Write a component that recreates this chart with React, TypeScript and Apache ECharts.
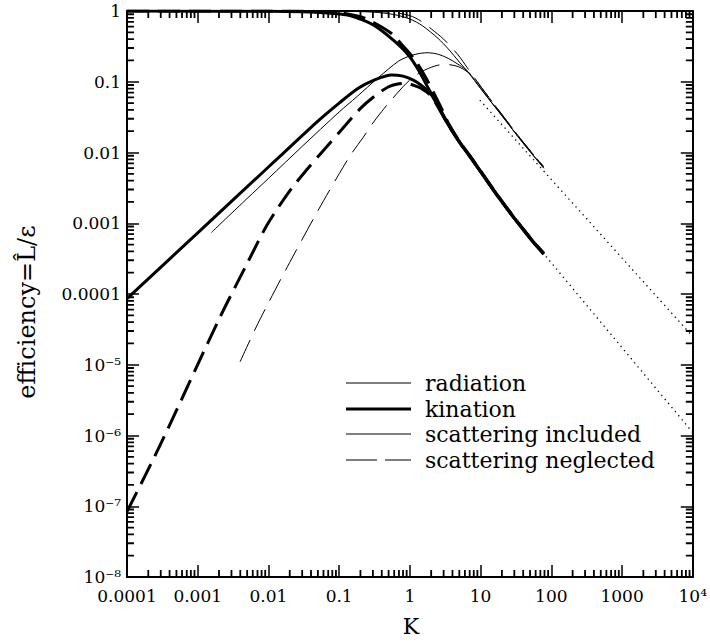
import React, { useEffect, useRef } from "react";
import * as echarts from "echarts";

// ---- tick labels ----
const xTickLabels = ["0.0001", "0.001", "0.01", "0.1", "1", "10", "100", "1000", "10⁴"];
const yTickLabels = ["10⁻⁸", "10⁻⁷", "10⁻⁶", "10⁻⁵", "0.0001", "0.001", "0.01", "0.1", "1"];
const xDecades = [1e-4, 1e-3, 1e-2, 1e-1, 1, 10, 100, 1000];
const yDecades = [1e-8, 1e-7, 1e-6, 1e-5, 1e-4, 1e-3, 1e-2, 1e-1];
const minorMultipliers = [2, 3, 4, 5, 6, 7, 8, 9];

const legendLabels = ["radiation", "kination", "scattering included", "scattering neglected"];

// ---- radiation, scattering included (thin solid) ----
const radInclFall = [
  [1e-4, 1], [0.01, 1], [0.1, 0.99], [0.3, 0.965], [0.6, 0.89], [1, 0.77], [1.5, 0.62],
  [2.5, 0.41], [3.5, 0.29], [5, 0.19], [6.7, 0.135], [10, 0.08], [20, 0.033], [40, 0.0135], [78, 0.006],
];
const radInclRise = [
  [0.00156, 7.4e-4], [0.005, 2.24e-3], [0.01, 0.0043], [0.03, 0.0122], [0.1, 0.0374], [0.178, 0.0615],
  [0.36, 0.115], [0.69, 0.195], [1.0, 0.232], [1.4, 0.252], [1.82, 0.257], [2.5, 0.245], [3.48, 0.214],
  [5, 0.172], [6.7, 0.138], [10, 0.081], [20, 0.0333], [40, 0.0136], [78, 0.0061],
];

// ---- radiation, scattering neglected (thin dashed) ----
const radNeglFall = [
  [1e-4, 1], [0.1, 1], [0.5, 0.965], [1, 0.86], [1.5, 0.7], [2, 0.56], [3, 0.4], [4.8, 0.24],
  [6.5, 0.157], [8.3, 0.112], [10, 0.086], [20, 0.0345], [40, 0.014], [78, 0.0063],
];
const radNeglRise = [
  [0.00397, 1.1e-5], [0.0066, 3.3e-5], [0.01, 7.5e-5], [0.02, 2.8e-4], [0.05, 1.5e-3], [0.1, 5e-3],
  [0.151, 0.0098], [0.22, 0.0165], [0.29, 0.025], [0.4, 0.038], [0.5, 0.05], [0.8, 0.085], [1.0, 0.106],
  [1.47, 0.139], [2.26, 0.167], [3.13, 0.176], [4.8, 0.164], [6.7, 0.135], [8.3, 0.111], [10, 0.086],
  [20, 0.0345], [40, 0.014], [78, 0.0063],
];

// ---- kination, scattering included (thick solid) ----
const kinInclFall = [
  [1e-4, 1], [0.01, 0.99], [0.03, 0.975], [0.07, 0.935], [0.136, 0.87], [0.25, 0.7], [0.36, 0.57],
  [0.617, 0.368], [0.95, 0.239], [1.32, 0.147], [1.82, 0.081], [2.52, 0.046], [3.5, 0.025], [5, 0.0143],
  [7, 0.009], [10, 0.0054], [15, 0.00304], [20, 0.00203], [30, 0.00117], [50, 0.00062], [78, 0.00037],
];
const kinInclRise = [
  [1e-4, 8.6e-5], [0.001, 7.33e-4], [0.01, 0.00624], [0.0156, 0.0094], [0.05, 0.0278],
  [0.1, 0.05], [0.186, 0.081], [0.3, 0.104], [0.55, 0.125], [0.8, 0.12], [1.1, 0.106], [1.47, 0.088],
  [2, 0.066], [2.5, 0.045], [3.5, 0.0245], [5, 0.014], [7, 0.0088], [10, 0.0053], [20, 0.002],
  [50, 0.00061], [78, 0.000365],
];

// ---- kination, scattering neglected (thick dashed) ----
const kinNeglFall = [
  [1e-4, 1], [0.01, 1], [0.05, 0.985], [0.1, 0.95], [0.2, 0.83], [0.29, 0.71], [0.55, 0.48], [0.8, 0.32],
  [1.18, 0.203], [1.6, 0.125], [2.14, 0.072], [2.8, 0.042], [3.5, 0.026], [5, 0.0145], [7, 0.0091],
  [10, 0.0055], [20, 0.00205], [50, 0.00063], [78, 0.00038],
];
const kinNeglRise = [
  [1e-4, 8.4e-8], [2.87e-4, 6.95e-7], [0.002, 4.4e-5], [0.005, 2.7e-4], [0.0096, 9.5e-4], [0.02, 0.00286],
  [0.035, 0.00575], [0.057, 0.0101], [0.108, 0.021], [0.2, 0.042], [0.3, 0.06], [0.5, 0.085], [0.7, 0.094],
  [0.9, 0.095], [1.1, 0.09], [1.47, 0.08], [2, 0.063], [2.5, 0.044], [3.5, 0.0245], [5, 0.0141], [7, 0.0089],
  [10, 0.0054], [20, 0.002], [50, 0.00062], [78, 0.00037],
];

// ---- asymptotes (dotted) ----
const radAsymptote = [[9.75, 0.055], [1e4, 2.5e-5]];
const kinAsymptote = [[20, 0.0019], [1e4, 1.1e-6]];

const X_MIN = 1e-4, X_MAX = 1e4, Y_MIN = 1e-8, Y_MAX = 1;
const FONT = '"DejaVu Serif", serif';

export default function App() {
  const ref = useRef<HTMLDivElement>(null);
  useEffect(() => {
    if (!ref.current) return;
    const chart = echarts.init(ref.current, null, { renderer: "svg" });

    const thin = 1;
    const thick = 3;
    const dashThin = [24, 10];
    const dashThick = [22, 9];
    const lineSeries = (data: any[], width: number, type: any) => ({
      type: "line",
      data,
      showSymbol: false,
      smooth: 0.3,
      silent: true,
      lineStyle: { color: "#000", width, type, cap: "butt" },
      z: 3,
    });

    // minor tick marks as short broken line segments (tick length ≈ 7 px, expressed as a log-axis factor)
    const xTickFactor = Math.pow(10, 7 / 71.25);
    const yTickFactor = Math.pow(10, 7 / 70.75);
    const gap = ["-", "-"];
    const bottomTicks: any[] = [];
    const topTicks: any[] = [];
    const leftTicks: any[] = [];
    const rightTicks: any[] = [];
    xDecades.forEach((d) =>
      minorMultipliers.forEach((m) => {
        const v = m * d;
        bottomTicks.push([v, Y_MIN], [v, Y_MIN * yTickFactor], gap);
        topTicks.push([v, Y_MAX], [v, Y_MAX / yTickFactor], gap);
      })
    );
    yDecades.forEach((d) =>
      minorMultipliers.forEach((m) => {
        const v = m * d;
        leftTicks.push([X_MIN, v], [X_MIN * xTickFactor, v], gap);
        rightTicks.push([X_MAX, v], [X_MAX / xTickFactor, v], gap);
      })
    );
    const tickSeries = (data: any[]) => ({
      type: "line",
      data,
      showSymbol: false,
      smooth: false,
      connectNulls: false,
      silent: true,
      clip: false,
      lineStyle: { color: "#000", width: 1.8, cap: "butt" },
      z: 4,
    });

    const axisBase = {
      type: "log",
      logBase: 10,
      splitNumber: 8,
      splitLine: { show: false },
      axisLine: { lineStyle: { color: "#000", width: 2 } },
      axisTick: { inside: true, length: 12, lineStyle: { color: "#000", width: 1.5 } },
    };

    const legendY = [383, 409, 434, 460];
    const legendStyles = [
      { lineWidth: 1, lineDash: null },
      { lineWidth: 3, lineDash: null },
      { lineWidth: 1.2, lineDash: null },
      { lineWidth: 1.2, lineDash: [31, 8] },
    ];
    const elements: any[] = [];
    legendLabels.forEach((lab, i) => {
      elements.push({
        type: "line",
        shape: { x1: 346, y1: legendY[i], x2: 411, y2: legendY[i] },
        style: { stroke: "#000", lineWidth: legendStyles[i].lineWidth, lineDash: legendStyles[i].lineDash },
      });
      elements.push({
        type: "text",
        x: 425,
        y: legendY[i],
        style: { text: lab, font: `22px ${FONT}`, fill: "#000", textAlign: "left", textVerticalAlign: "middle" },
      });
    });
    elements.push({
      type: "text",
      x: 27,
      y: 312,
      rotation: Math.PI / 2,
      style: {
        text: "efficiency=L\u0302/\u03b5",
        font: `24px ${FONT}`,
        fill: "#000",
        textAlign: "center",
        textVerticalAlign: "middle",
      },
    });
    elements.push({
      type: "text",
      x: 411,
      y: 626,
      style: { text: "K", font: `22px ${FONT}`, fill: "#000", textAlign: "center", textVerticalAlign: "middle" },
    });

    chart.setOption({
      animation: false,
      backgroundColor: "#fff",
      grid: { left: 127, right: 15, top: 11, bottom: 66, containLabel: false },
      xAxis: [
        {
          ...axisBase,
          min: X_MIN,
          max: X_MAX,
          position: "bottom",
          axisLabel: {
            color: "#000",
            fontFamily: FONT,
            fontSize: 17,
            margin: 10,
            showMinLabel: true,
            showMaxLabel: true,
            hideOverlap: false,
            formatter: (v: number) => xTickLabels[Math.round(Math.log10(v)) + 4] ?? "",
          },
        },
        { ...axisBase, min: X_MIN, max: X_MAX, position: "top", axisLabel: { show: false } },
      ],
      yAxis: [
        {
          ...axisBase,
          min: Y_MIN,
          max: Y_MAX,
          position: "left",
          axisLabel: {
            color: "#000",
            fontFamily: FONT,
            fontSize: 17,
            margin: 6,
            showMinLabel: true,
            showMaxLabel: true,
            hideOverlap: false,
            formatter: (v: number) => yTickLabels[Math.round(Math.log10(v)) + 8] ?? "",
          },
        },
        { ...axisBase, min: Y_MIN, max: Y_MAX, position: "right", axisLabel: { show: false } },
      ],
      graphic: elements,
      series: [
        lineSeries(radInclFall, thin, "solid"),
        lineSeries(radInclRise, thin, "solid"),
        lineSeries(radNeglFall, thin, dashThin),
        lineSeries(radNeglRise, thin, dashThin),
        lineSeries(kinInclFall, thick, "solid"),
        lineSeries(kinInclRise, thick, "solid"),
        lineSeries(kinNeglFall, thick, dashThick),
        lineSeries(kinNeglRise, thick, dashThick),
        { ...lineSeries(radAsymptote, 1.3, [1.3, 4]), smooth: false },
        { ...lineSeries(kinAsymptote, 1.3, [1.3, 4]), smooth: false },
        tickSeries(bottomTicks),
        tickSeries(topTicks),
        tickSeries(leftTicks),
        tickSeries(rightTicks),
      ],
    });

    return () => chart.dispose();
  }, []);
  return <div ref={ref} style={{ position: "absolute", left: 0, top: 0, width: 710, height: 643 }} />;
}
